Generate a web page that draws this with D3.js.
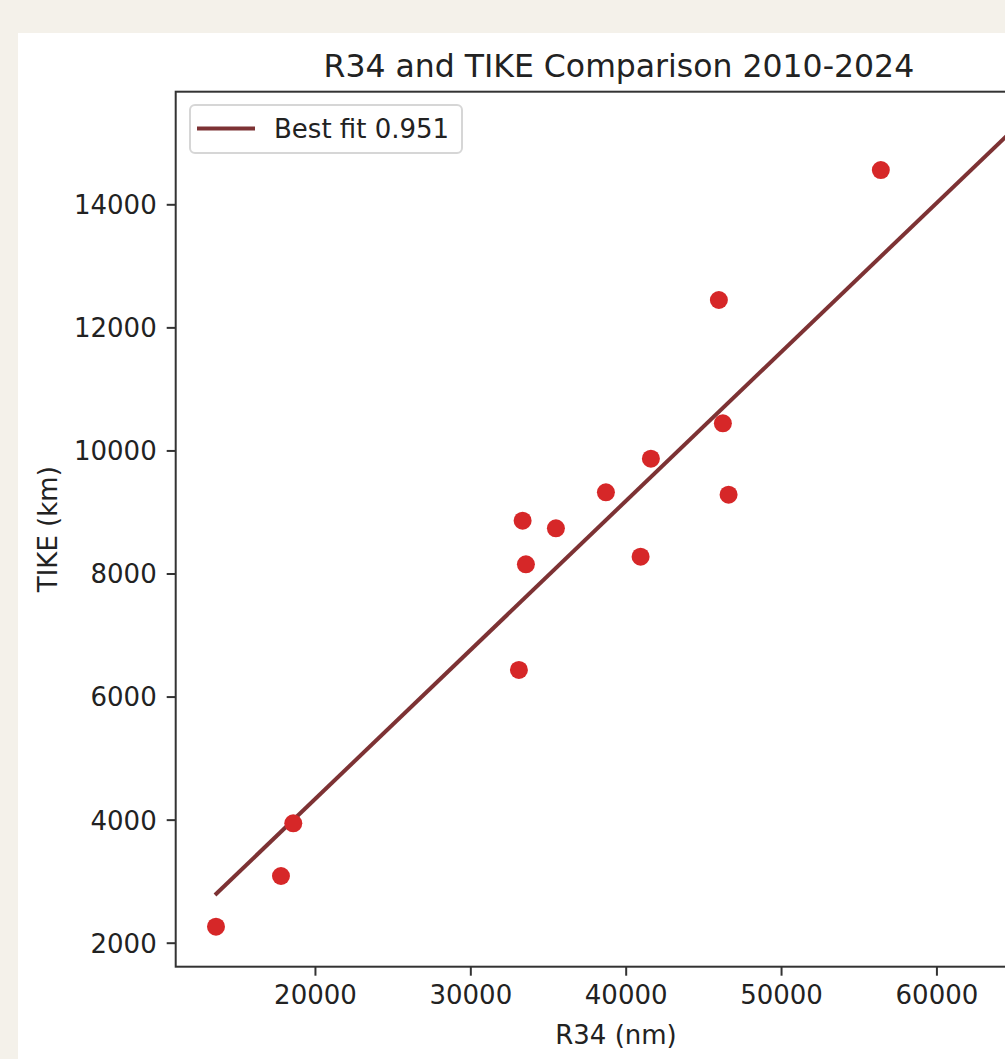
<!DOCTYPE html>
<html>
<head>
<meta charset="utf-8">
<script src="https://cdn.jsdelivr.net/npm/d3@7"></script>
<style>
  html, body { margin: 0; padding: 0; background: #f4f1ea; overflow: hidden; }
  svg { display: block; font-family: "DejaVu Sans", sans-serif; }
</style>
</head>
<body>
<div id="chart"></div>
<script>
// R34 (nm) vs TIKE (km), one point per season
const r34 = [13630, 17813, 18605, 33128, 33366, 33579, 35509, 38727, 40960, 41623, 45998, 46256, 46623, 56423];
const tike = [2260, 3084, 3940, 6432, 8858, 8150, 8735, 9320, 8273, 9866, 12445, 10441, 9281, 14557];
// best fit line ends
const fitR34 = [13566, 65500];
const fitTike = [2775, 15350];
const fitLabel = "Best fit 0.951";
const xTicks = [20000, 30000, 40000, 50000, 60000];
const yTicks = [2000, 4000, 6000, 8000, 10000, 12000, 14000];

const W = 1005, H = 1059;
const margin = {left: 175.7, top: 91.7, right: 1062, bottom: 966.7};

const svg = d3.select("#chart").append("svg")
    .attr("width", W)
    .attr("height", H);

// white figure panel
svg.append("rect")
    .attr("x", 18).attr("y", 33)
    .attr("width", W).attr("height", H)
    .attr("fill", "#ffffff");

let x = d3.scaleLinear()
    .domain([11037, 68083])
    .range([margin.left, margin.right]);
let y = d3.scaleLinear()
    .domain([1610, 15830])
    .range([margin.bottom, margin.top]);

let plot = svg.append("g");

// fit line
plot.append("line")
    .attr("x1", x(fitR34[0])).attr("y1", y(fitTike[0]))
    .attr("x2", x(fitR34[1])).attr("y2", y(fitTike[1]))
    .attr("stroke", "#7d3234")
    .attr("stroke-width", 4);

// points
plot.selectAll("circle")
    .data(r34)
    .enter()
    .append("circle")
    .attr("cx", function(d){ return x(d); })
    .attr("cy", function(d, i){ return y(tike[i]); })
    .attr("r", 9)
    .attr("fill", "#d62728");

// axes
let xAxis = svg.append("g")
    .attr("transform", "translate(0," + margin.bottom + ")")
    .call(d3.axisBottom(x).tickValues(xTicks).tickSize(9).tickPadding(9).tickFormat(d3.format("d")));
let yAxis = svg.append("g")
    .attr("transform", "translate(" + margin.left + ",0)")
    .call(d3.axisLeft(y).tickValues(yTicks).tickSize(9).tickPadding(10).tickFormat(d3.format("d")));

[xAxis, yAxis].forEach(function(ax){
    ax.select(".domain").remove();
    ax.selectAll(".tick line").attr("stroke", "#333").attr("stroke-width", 2);
    ax.selectAll(".tick text")
        .attr("fill", "#222")
        .style("font-size", "26px")
        .style("font-family", "DejaVu Sans, sans-serif");
});
yAxis.selectAll(".tick text").attr("dy", "0.36em");
xAxis.selectAll(".tick text").attr("dy", "0.76em");

// spines
svg.append("rect")
    .attr("x", margin.left).attr("y", margin.top)
    .attr("width", margin.right - margin.left)
    .attr("height", margin.bottom - margin.top)
    .attr("fill", "none")
    .attr("stroke", "#333")
    .attr("stroke-width", 2);

// title and labels
let midX = (margin.left + margin.right) / 2;
svg.append("text")
    .attr("x", midX).attr("y", 76.5)
    .attr("text-anchor", "middle")
    .attr("fill", "#222")
    .style("font-size", "31.5px")
    .text("R34 and TIKE Comparison 2010-2024");

svg.append("text")
    .attr("x", 616).attr("y", 1044)
    .attr("text-anchor", "middle")
    .attr("fill", "#222")
    .style("font-size", "26px")
    .text("R34 (nm)");

svg.append("text")
    .attr("transform", "translate(57," + (margin.top + margin.bottom) / 2 + ") rotate(-90)")
    .attr("text-anchor", "middle")
    .attr("fill", "#222")
    .style("font-size", "26px")
    .text("TIKE (km)");

// legend
let legend = svg.append("g");
legend.append("rect")
    .attr("x", 190).attr("y", 105)
    .attr("width", 272).attr("height", 48)
    .attr("rx", 5)
    .attr("fill", "#ffffff")
    .attr("fill-opacity", 0.8)
    .attr("stroke", "#d6d6d6")
    .attr("stroke-width", 2);
legend.append("line")
    .attr("x1", 197).attr("x2", 255)
    .attr("y1", 128.5).attr("y2", 128.5)
    .attr("stroke", "#7d3234")
    .attr("stroke-width", 4);
legend.append("text")
    .attr("x", 274).attr("y", 137.5)
    .attr("fill", "#222")
    .style("font-size", "26px")
    .text(fitLabel);
</script>
</body>
</html>
